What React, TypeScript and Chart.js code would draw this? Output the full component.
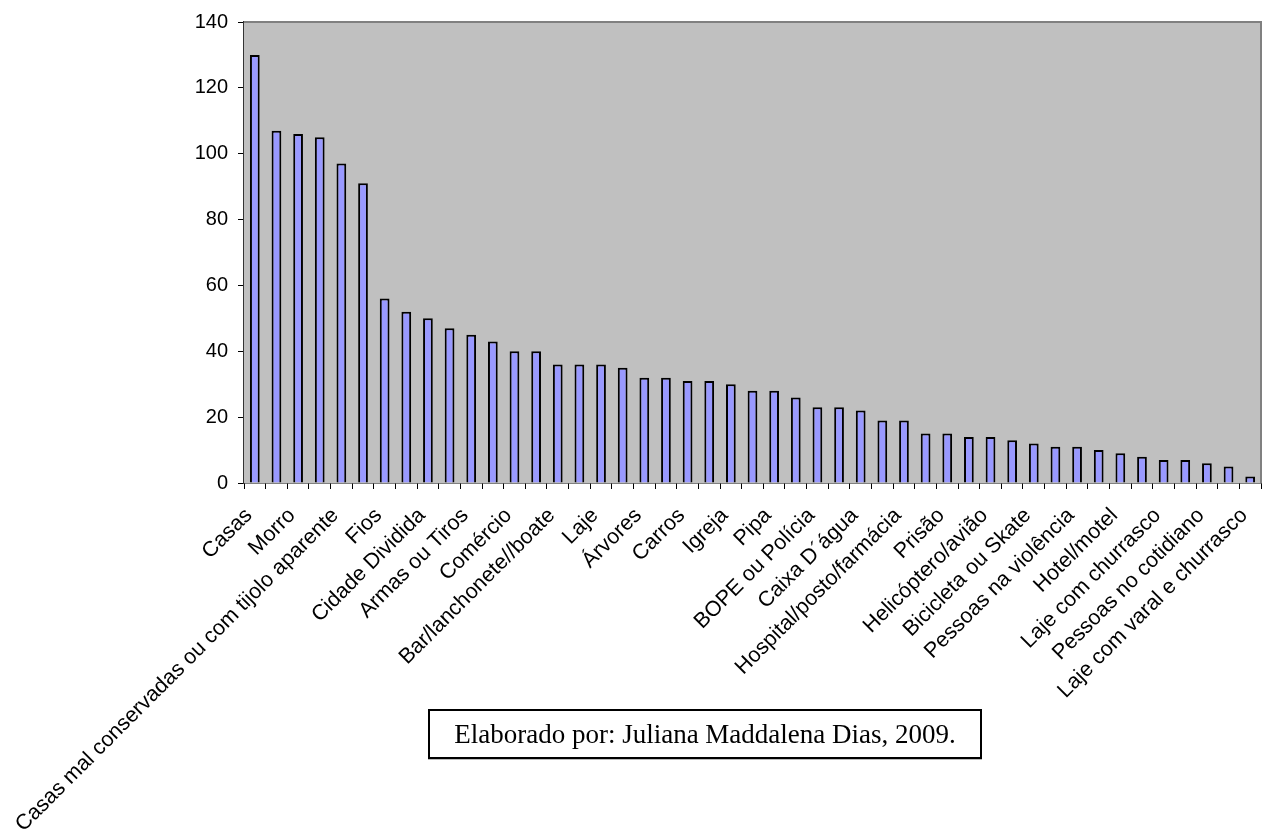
import React, { useEffect, useRef } from "react";
import { Chart, registerables } from "chart.js";

Chart.register(...registerables);

// Labels shown under every other bar (the chart only prints alternate category names)
const visibleLabels = [
  "Casas",
  "Morro",
  "Casas mal conservadas ou com tijolo aparente",
  "Fios",
  "Cidade Dividida",
  "Armas ou Tiros",
  "Comércio",
  "Bar/lanchonete//boate",
  "Laje",
  "Árvores",
  "Carros",
  "Igreja",
  "Pipa",
  "BOPE ou Polícia",
  "Caixa D´água",
  "Hospital/posto/farmácia",
  "Prisão",
  "Helicóptero/avião",
  "Bicicleta ou Skate",
  "Pessoas na violência",
  "Hotel/motel",
  "Laje com churrasco",
  "Pessoas no cotidiano",
  "Laje com varal e churrasco",
];

const values = [
  130, 107, 106, 105, 97, 91, 56, 52, 50, 47, 45, 43, 40, 40, 36, 36, 36, 35,
  32, 32, 31, 31, 30, 28, 28, 26, 23, 23, 22, 19, 19, 15, 15, 14, 14, 13, 12,
  11, 11, 10, 9, 8, 7, 7, 6, 5, 2,
];

const yMin = 0;
const yMax = 140;
const yStep = 20;

const caption = "Elaborado por: Juliana Maddalena Dias, 2009.";

const categories = values.map((_, i) =>
  i % 2 === 0 ? visibleLabels[i / 2] ?? "" : ""
);

const plotDecor = {
  id: "plotDecor",
  beforeDatasetsDraw(chart: any) {
    const { ctx, chartArea } = chart;
    ctx.save();
    ctx.fillStyle = "#C0C0C0";
    ctx.fillRect(
      chartArea.left,
      chartArea.top,
      chartArea.right - chartArea.left,
      chartArea.bottom - chartArea.top
    );
    ctx.restore();
  },
  afterDraw(chart: any) {
    const { ctx, chartArea } = chart;
    ctx.save();
    ctx.strokeStyle = "#808080";
    ctx.lineWidth = 2;
    ctx.beginPath();
    ctx.moveTo(chartArea.left, chartArea.top);
    ctx.lineTo(chartArea.right, chartArea.top);
    ctx.lineTo(chartArea.right, chartArea.bottom);
    ctx.stroke();
    ctx.restore();
  },
};

export default function App() {
  const canvasRef = useRef<HTMLCanvasElement | null>(null);

  useEffect(() => {
    if (!canvasRef.current) return;
    const chart = new Chart(canvasRef.current, {
      type: "bar",
      data: {
        labels: categories,
        datasets: [
          {
            data: values,
            backgroundColor: "#9999FF",
            borderColor: "#000000",
            borderWidth: 2,
            barPercentage: 0.45,
            categoryPercentage: 1,
          },
        ],
      },
      options: {
        responsive: false,
        animation: false,
        devicePixelRatio: 1,
        layout: { padding: { top: 22, right: 4, left: 0, bottom: 0 } },
        plugins: {
          legend: { display: false },
          tooltip: { enabled: false },
          title: { display: false },
        },
        scales: {
          x: {
            afterFit: (scale: any) => {
              scale.height = 352;
              scale.paddingLeft = 0;
              scale.paddingRight = 0;
            },
            grid: {
              display: true,
              offset: true,
              drawOnChartArea: false,
              drawTicks: true,
              tickLength: 6,
              color: "#000000",
              lineWidth: 1,
            },
            border: { display: true, color: "#000000", width: 1.5 },
            ticks: {
              autoSkip: false,
              maxRotation: 45,
              minRotation: 45,
              padding: 14,
              labelOffset: -6,
              color: "#000000",
              font: { family: "'Liberation Sans', Arial, sans-serif", size: 21.5 },
            },
          },
          y: {
            min: yMin,
            max: yMax,
            afterFit: (scale: any) => {
              scale.width = 244;
            },
            grid: {
              display: true,
              drawOnChartArea: false,
              drawTicks: true,
              tickLength: 6,
              color: "#000000",
              lineWidth: 1,
            },
            border: { display: true, color: "#333333", width: 2 },
            ticks: {
              stepSize: yStep,
              padding: 10,
              color: "#000000",
              font: { family: "'Liberation Sans', Arial, sans-serif", size: 20 },
            },
          },
        },
      },
      plugins: [plotDecor],
    });
    return () => chart.destroy();
  }, []);

  return (
    <div
      style={{
        position: "fixed",
        left: 0,
        top: 0,
        width: 1265,
        height: 835,
        background: "#ffffff",
      }}
    >
      <canvas
        ref={canvasRef}
        width={1265}
        height={835}
        style={{ position: "absolute", left: 0, top: 0, width: 1265, height: 835 }}
      />
      <div
        style={{
          position: "absolute",
          left: 428,
          top: 709,
          width: 554,
          height: 50,
          boxSizing: "border-box",
          border: "2px solid #000000",
          background: "#ffffff",
          boxShadow: "0 1px 0 #bbbbbb",
          display: "flex",
          alignItems: "center",
          justifyContent: "center",
          fontFamily: "'Liberation Serif', 'Times New Roman', serif",
          fontSize: 27,
          color: "#000000",
          whiteSpace: "nowrap",
        }}
      >
        {caption}
      </div>
    </div>
  );
}
